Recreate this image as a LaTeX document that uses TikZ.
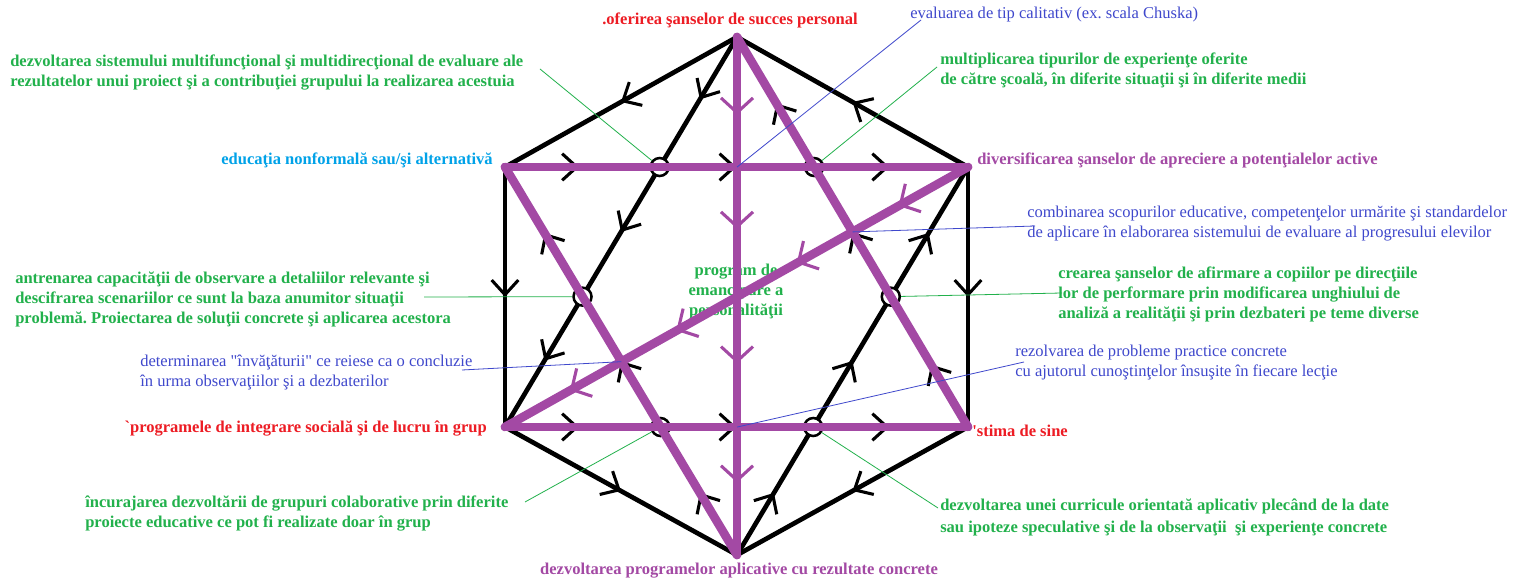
\documentclass[tikz,border=0pt]{standalone}
\usepackage{fontspec}
\setmainfont{Liberation Serif}
\usetikzlibrary{arrows.meta,decorations.markings}
\definecolor{mov}{RGB}{163,73,164}
\definecolor{verde}{RGB}{34,177,76}
\definecolor{rosu}{RGB}{237,28,36}
\definecolor{albastru}{RGB}{63,72,204}
\definecolor{azur}{RGB}{0,162,232}
\frenchspacing
\begin{document}
\begin{tikzpicture}[x=0.75pt,y=-0.75pt,
    txt/.style={inner sep=0pt, font=\fontsize{12.4}{15}\selectfont\bfseries, align=left},
    txtv/.style={txt, text=verde},
    txtb/.style={inner sep=0pt, font=\fontsize{12.4}{15}\selectfont, align=left, text=albastru},
    lat/.style={line width=3.5pt, line cap=round, line join=round},
    diag/.style={line width=6.5pt, draw=mov, line cap=round},
    inel/.style={circle, draw, line width=1.9pt, fill=white, minimum size=13.5pt, inner sep=0pt},
    fverde/.style={line width=0.6pt, draw=verde},
    falb/.style={line width=0.6pt, draw=albastru},
    sn/.tip={Straight Barb[length=11pt,width=20pt,line width=2.3pt]},
    sm/.tip={Straight Barb[length=11pt,width=24pt,line width=2.3pt]},
    sag1/.style={postaction={decorate}, decoration={markings,
        mark=at position 0.5 with {\arrow{sn}}}},
    sag3/.style={postaction={decorate}, decoration={markings,
        mark=at position 0.16 with {\arrow{sn}}, mark=at position 0.5 with {\arrow{sn}},
        mark=at position 0.83 with {\arrow{sn}}}},
    sag4/.style={postaction={decorate}, decoration={markings,
        mark=at position 0.15 with {\arrow{sm}}, mark=at position 0.37 with {\arrow{sm}},
        mark=at position 0.63 with {\arrow{sm}}, mark=at position 0.86 with {\arrow{sm}}}}]
    \useasboundingbox[fill=white] (0,0) rectangle (1522,580);
    % varfurile hexagonului
    \coordinate (T) at (737,37);
    \coordinate (UL) at (505,167);
    \coordinate (UR) at (968,167);
    \coordinate (LL) at (505,427);
    \coordinate (LR) at (968,427);
    \coordinate (B) at (737,555);
    % laturi si diagonale negre
    \foreach \a/\b in {T/UL, UR/T, UL/LL, UR/LR, LL/B, LR/B}
        \draw[lat,sag1] (\a) -- (\b);
    \foreach \a/\b in {T/LL, B/UR, UL/UR, LL/LR, LR/T, B/UL}
        \draw[lat,sag3] (\a) -- (\b);
    % cercurile din interior
    \node[inel] (c1) at (intersection of T--LL and UL--UR) {};
    \node[inel] (c2) at (intersection of T--LR and UL--UR) {};
    \node[inel] (c3) at (intersection of UR--B and T--LR) {};
    \node[inel] (c4) at (intersection of UR--B and LL--LR) {};
    \node[inel] (c5) at (intersection of UL--B and LL--LR) {};
    \node[inel] (c6) at (intersection of T--LL and UL--B) {};
    \coordinate (x1) at (intersection of T--B and UL--UR);
    \coordinate (x2) at (intersection of UR--LL and T--LR);
    \coordinate (x3) at (intersection of UR--LL and UL--B);
    \coordinate (x4) at (intersection of T--B and LL--LR);
    \node[txtv, align=center] (emancipare) at (736,292) {program de\\emancipare a\\personalităţii};
    % liniile mov
    \draw[diag] (UL) -- (UR);
    \draw[diag] (LL) -- (LR);
    \draw[diag] (T) -- (LR);
    \draw[diag] (UL) -- (B);
    \draw[diag,sag4] (T) -- (B);
    \draw[diag,sag4] (UR) -- (LL);
    % texte
    \node[txt, text=rosu, anchor=base] (succes) at (730,25) {.oferirea şanselor de succes personal};
    \node[txtb, anchor=base west] (calitativ) at (910,19) {evaluarea de tip calitativ (ex. scala Chuska)};
    \node[txtv, anchor=base west] (sistem) at (10,87) {dezvoltarea sistemului multifuncţional şi multidirecţional de evaluare ale\\rezultatelor unui proiect şi a contribuţiei grupului la realizarea acestuia};
    \node[txtv, anchor=base west] (experiente) at (940,85) {multiplicarea tipurilor de experienţe oferite\\de către şcoală, în diferite situaţii şi în diferite medii};
    \node[txt, text=azur, anchor=base east] (nonformal) at (493,165) {educaţia nonformală sau/şi alternativă};
    \node[txt, text=mov, anchor=base west] (apreciere) at (977,165) {diversificarea şanselor de apreciere a potenţialelor active};
    \node[txtb, anchor=base west] (scopuri) at (1027,238) {combinarea scopurilor educative, competenţelor urmărite şi standardelor\\de aplicare în elaborarea sistemului de evaluare al progresului elevilor};
    \node[txtv, anchor=base west] (observare) at (15,324) {antrenarea capacităţii de observare a detaliilor relevante şi\\descifrarea scenariilor ce sunt la baza anumitor situaţii\\problemă. Proiectarea de soluţii concrete şi aplicarea acestora};
    \node[txtv, anchor=base west] (afirmare) at (1058,319) {crearea şanselor de afirmare a copiilor pe direcţiile\\lor de performare prin modificarea unghiului de\\analiză a realităţii şi prin dezbateri pe teme diverse};
    \node[txtb, anchor=base west] (concluzie) at (140,387) {determinarea \textquotedbl învăţăturii\textquotedbl{} ce reiese ca o concluzie\\în urma observaţiilor şi a dezbaterilor};
    \node[txtb, anchor=base west] (lectie) at (1015,377) {rezolvarea de probleme practice concrete\\cu ajutorul cunoştinţelor însuşite în fiecare lecţie};
    \node[txt, text=rosu, anchor=base east] (integrare) at (487,433) {\textasciigrave programele de integrare socială şi de lucru în grup};
    \node[txt, text=rosu, anchor=base west] (stima) at (972,437) {\textquotesingle stima de sine};
    \node[txtv, anchor=base west] (grupuri) at (85,528) {încurajarea dezvoltării de grupuri colaborative prin diferite\\proiecte educative ce pot fi realizate doar în grup};
    \node[txt, text=mov, anchor=base] (aplicative) at (739,575) {dezvoltarea programelor aplicative cu rezultate concrete};
    \node[txtv, anchor=base west] (curricula) at (940,533) {dezvoltarea unei curricule orientată aplicativ plecând de la date\\[1.5pt]sau ipoteze speculative şi de la observaţii\ \ şi experienţe concrete};
    % linii de legatura
    \coordinate (l1) at (540,69);
    \coordinate (l2) at (937,67);
    \coordinate (l3) at (424,297);
    \coordinate (l4) at (1062,293);
    \coordinate (l5) at (525,502);
    \coordinate (l6) at (938,508);
    \draw[fverde] (l1) -- (c1);
    \draw[fverde] (l2) -- (c2);
    \draw[fverde] (l3) -- (c6);
    \draw[fverde] (c3) -- (l4);
    \draw[fverde] (l5) -- (c5);
    \draw[fverde] (c4) -- (l6);
    \coordinate (b1) at (921,20);
    \coordinate (b2) at (1035,226);
    \coordinate (b3) at (462,370);
    \coordinate (b4) at (1024,362);
    \draw[falb] (b1) -- (x1);
    \draw[falb] (b2) -- (x2);
    \draw[falb] (b3) -- (x3);
    \draw[falb] (b4) -- (x4);
\end{tikzpicture}
\end{document}
